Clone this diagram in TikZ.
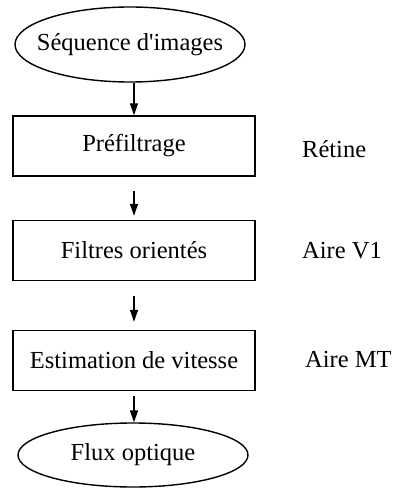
\documentclass[tikz,border=0pt]{standalone}
\usepackage{fontspec}
\newfontfamily\rawserif{Liberation Serif}
\usetikzlibrary{shapes.geometric,arrows.meta}
\begin{document}
\begin{tikzpicture}[x=1pt,y=-1pt,
  every node/.style={font=\rawserif\fontsize{24.5}{28}\selectfont, inner sep=0pt},
  term/.style={draw, line width=1.4pt, ellipse, minimum width=230pt},
  proc/.style={draw, line width=1.4pt, rectangle, minimum width=242pt, minimum height=60pt},
  area/.style={anchor=west},
  flow/.style={line width=1.4pt, -{Triangle[length=12pt,width=8pt]}}]
\useasboundingbox (0,0) rectangle (395,497);
\node[term, minimum height=75pt] (seq) at (130,44.5) {\makebox[0pt]{Séquence d'images}};
\node[proc] (pre) at (134,146) {Préfiltrage};
\node[proc] (fil) at (134,250.5) {Filtres orientés};
\node[proc] (est) at (134,360.5) {Estimation de vitesse};
\node[term, minimum height=64pt] (flux) at (133,455) {\makebox[0pt]{Flux optique}};
\node[area] (ret) at (302,149) {Rétine};
\node[area] (v1) at (302,251) {Aire V1};
\node[area] (mt) at (305,360) {Aire MT};
\draw[flow] (seq.south -| pre.north) -- (pre.north);
\draw[flow, shorten <=14pt, shorten >=4pt] (pre) -- (fil);
\draw[flow, shorten <=15pt, shorten >=8pt] (fil) -- (est);
\draw[flow, shorten <=5pt] (est) -- (flux.north -| est.south);
\end{tikzpicture}
\end{document}
